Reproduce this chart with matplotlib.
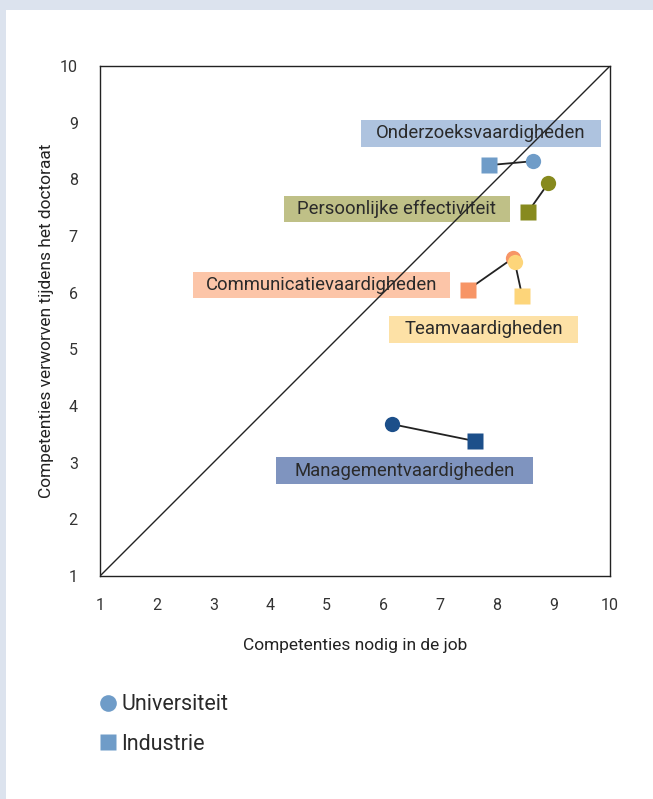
import matplotlib.pyplot as plt
from matplotlib.patches import Rectangle
from matplotlib.lines import Line2D

plt.rcParams['font.family'] = ['Roboto', 'DejaVu Sans']

# competenties: (universiteit x, y) en (industrie x, y)
namen = ['Onderzoeksvaardigheden', 'Persoonlijke effectiviteit',
         'Communicatievaardigheden', 'Teamvaardigheden', 'Managementvaardigheden']
uni_x = [8.64, 8.91, 8.29, 8.32, 6.15]
uni_y = [8.32, 7.93, 6.61, 6.54, 3.68]
ind_x = [7.86, 8.55, 7.49, 8.45, 7.62]
ind_y = [8.25, 7.42, 6.05, 5.94, 3.38]

# label vakken (x0, x1, y0, y1) in data-coordinaten
label_x0 = [5.61, 4.25, 2.64, 6.10, 4.11]
label_x1 = [9.84, 8.23, 7.18, 9.43, 8.64]
label_y0 = [8.57, 7.25, 5.91, 5.11, 2.62]
label_y1 = [9.05, 7.71, 6.36, 5.59, 3.10]

kleur_marker = ['#6f9cc8', '#878a1e', '#f79566', '#fdd57a', '#1c4f8a']
kleur_vak = ['#aec3df', '#bfc087', '#fcc5a8', '#fde1a6', '#7f94bf']

fig = plt.figure(figsize=(6.53, 7.99), dpi=100)
fig.patch.set_facecolor('white')
# lichtblauwe rand boven en links
fig.add_artist(Rectangle((0, 1 - 10/799), 1, 10/799, transform=fig.transFigure,
                         facecolor='#dce3ee', edgecolor='none'))
fig.add_artist(Rectangle((0, 0), 6/653, 1, transform=fig.transFigure,
                         facecolor='#dce3ee', edgecolor='none'))

ax = fig.add_axes([100/653, 1 - 576/799, 510/653, 510/799])
ax.set_xlim(1, 10)
ax.set_ylim(1, 10)
ax.set_xticks(range(1, 11))
ax.set_yticks(range(1, 11))
ax.tick_params(length=0, labelsize=11.5, colors='#333333')
ax.tick_params(axis='x', pad=16)
ax.tick_params(axis='y', pad=16)
for s in ax.spines.values():
    s.set_linewidth(1.0)
    s.set_color('#222222')

ax.plot([1, 10], [1, 10], color='#222222', lw=1.0, zorder=3)

for i in range(len(namen)):
    ax.add_patch(Rectangle((label_x0[i], label_y0[i]), label_x1[i] - label_x0[i],
                           label_y1[i] - label_y0[i], facecolor=kleur_vak[i],
                           edgecolor='none', zorder=2))
    ax.text((label_x0[i] + label_x1[i]) / 2, (label_y0[i] + label_y1[i]) / 2, namen[i],
            ha='center', va='center', fontsize=13.3, color='#2a2a2a', zorder=4)
    ax.plot([uni_x[i], ind_x[i]], [uni_y[i], ind_y[i]], color='#222222', lw=1.3, zorder=5)
    ax.plot(ind_x[i], ind_y[i], 's', ms=11, color=kleur_marker[i], mec='none', zorder=6)
    ax.plot(uni_x[i], uni_y[i], 'o', ms=11, color=kleur_marker[i], mec='none', zorder=7)

ax.set_xlabel('Competenties nodig in de job', fontsize=12.5, color='#222222', labelpad=18)
ax.set_ylabel('Competenties verworven tijdens het doctoraat', fontsize=12.5,
              color='#222222', labelpad=4)

legenda = [Line2D([], [], marker='o', ls='none', ms=12, color='#6f9cc8', mec='none',
                  label='Universiteit'),
           Line2D([], [], marker='s', ls='none', ms=11, color='#6f9cc8', mec='none',
                  label='Industrie')]
fig.legend(handles=legenda, loc='upper left', bbox_to_anchor=(77/653, 1 - 675/799),
           frameon=False, fontsize=15.5, handletextpad=0.05, handlelength=1.1,
           labelspacing=0.85, labelcolor='#2a2a2a')

fig.savefig('out.png', dpi=100, facecolor='white')
